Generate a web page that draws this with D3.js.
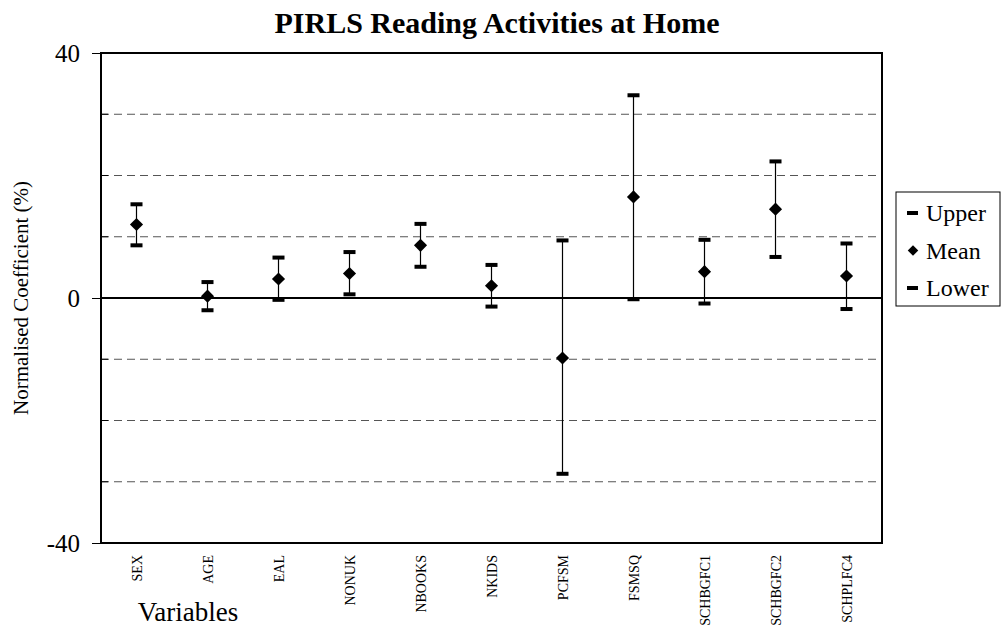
<!DOCTYPE html>
<meta charset="utf-8">
<head>
  <title>PIRLS Reading Activities at Home</title>
</head>

<style>
body { margin: 0; background: white; }
svg, svg text { font-family: 'Liberation Serif', 'Times New Roman', Times, serif !important; fill: black; }
.grid line { stroke: #555; stroke-dasharray: 8 5; }
</style>

<body>
  <svg width="1002" height="639"></svg>

  <script src="https://cdnjs.cloudflare.com/ajax/libs/d3/7.8.5/d3.min.js"></script>
  <script>

// data
const variables = ["SEX", "AGE", "EAL", "NONUK", "NBOOKS", "NKIDS", "PCFSM", "FSMSQ", "SCHBGFC1", "SCHBGFC2", "SCHPLFC4"];
const upper = [15.3, 2.6, 6.6, 7.5, 12.1, 5.4, 9.4, 33.1, 9.5, 22.3, 8.9];
const mean  = [12.0, 0.3, 3.1, 4.0, 8.6, 2.0, -9.8, 16.5, 4.3, 14.5, 3.6];
const lower = [8.6, -2.0, -0.3, 0.6, 5.1, -1.4, -28.7, -0.2, -0.9, 6.7, -1.8];
const majorTicks = [40, 0, -40];
const gridValues = [30, 20, 10, -10, -20, -30];

const rows = variables.map((v, i) => ({ name: v, upper: upper[i], mean: mean[i], lower: lower[i] }));

const svg = d3.select("svg");
const m = { left: 101, right: 882, top: 53, bottom: 543 };

const x = d3.scaleBand()
  .domain(variables)
  .range([m.left, m.right]);

const y = d3.scaleLinear()
  .domain([-40, 40])
  .range([m.bottom, m.top]);

// title
svg.append("text")
  .attr("x", 497)
  .attr("y", 33)
  .attr("text-anchor", "middle")
  .style("font-size", "30px")
  .style("font-weight", "bold")
  .text("PIRLS Reading Activities at Home");

// dashed gridlines
svg.append("g").attr("class", "grid")
  .selectAll("line")
  .data(gridValues)
  .enter()
  .append("line")
  .attr("x1", m.left).attr("x2", m.right)
  .attr("y1", d => y(d)).attr("y2", d => y(d));

// minor ticks inside
svg.append("g")
  .selectAll("line")
  .data(gridValues)
  .enter()
  .append("line")
  .attr("x1", m.left).attr("x2", m.left + 7)
  .attr("y1", d => y(d)).attr("y2", d => y(d))
  .attr("stroke", "black");

// y axis
const yAxis = svg.append("g")
  .attr("transform", `translate(${m.left},0)`)
  .call(d3.axisLeft(y).tickValues(majorTicks).tickSize(9).tickPadding(12).tickFormat(d => String(d)));
yAxis.attr("font-family", null);
yAxis.select(".domain").remove();
yAxis.selectAll("text").style("font-size", "25px");
yAxis.selectAll(".tick line").attr("stroke", "black");

// zero line
svg.append("line")
  .attr("x1", m.left).attr("x2", m.right)
  .attr("y1", y(0)).attr("y2", y(0))
  .attr("stroke", "black").attr("stroke-width", 2);

// plot border
svg.append("rect")
  .attr("x", m.left).attr("y", m.top)
  .attr("width", m.right - m.left).attr("height", m.bottom - m.top)
  .attr("fill", "none").attr("stroke", "black").attr("stroke-width", 2);

// x labels
svg.append("g")
  .selectAll("text")
  .data(variables)
  .enter()
  .append("text")
  .attr("transform", d => `translate(${x(d) + x.bandwidth() / 2 + 5},555) rotate(-90)`)
  .attr("text-anchor", "end")
  .style("font-size", "14px")
  .text(d => d);

// axis titles
svg.append("text")
  .attr("x", 188).attr("y", 621)
  .attr("text-anchor", "middle")
  .style("font-size", "27px")
  .text("Variables");

svg.append("text")
  .attr("transform", `translate(28,${y(0)}) rotate(-90)`)
  .attr("text-anchor", "middle")
  .style("font-size", "21px")
  .text("Normalised Coefficient (%)");

// error bars
const bars = svg.append("g")
  .selectAll("g")
  .data(rows)
  .enter()
  .append("g")
  .attr("transform", d => `translate(${x(d.name) + x.bandwidth() / 2},0)`);

bars.append("line")
  .attr("y1", d => y(d.upper)).attr("y2", d => y(d.lower))
  .attr("stroke", "black").attr("stroke-width", 1.2);

bars.append("rect")
  .attr("x", -6).attr("width", 12)
  .attr("y", d => y(d.upper) - 2).attr("height", 4);

bars.append("rect")
  .attr("x", -6).attr("width", 12)
  .attr("y", d => y(d.lower) - 2).attr("height", 4);

const diamond = d3.symbol().type(d3.symbolDiamond2).size(110);
bars.append("path")
  .attr("d", diamond)
  .attr("transform", d => `translate(0,${y(d.mean)})`);

// legend
const lg = svg.append("g");
lg.append("rect")
  .attr("x", 896).attr("y", 192)
  .attr("width", 104).attr("height", 114)
  .attr("fill", "white").attr("stroke", "black").attr("stroke-width", 1);

const legendItems = ["Upper", "Mean", "Lower"];
const ly = d3.scalePoint().domain(legendItems).range([213, 288]);

legendItems.forEach(k => {
  if (k === "Mean") {
    lg.append("path")
      .attr("d", d3.symbol().type(d3.symbolDiamond2).size(70))
      .attr("transform", `translate(913,${ly(k)})`);
  } else {
    lg.append("rect")
      .attr("x", 907).attr("y", ly(k) - 2)
      .attr("width", 11).attr("height", 4);
  }
  lg.append("text")
    .attr("x", 926).attr("y", ly(k) + 8)
    .style("font-size", "24px")
    .text(k);
});

  </script>
</body>
</html>
